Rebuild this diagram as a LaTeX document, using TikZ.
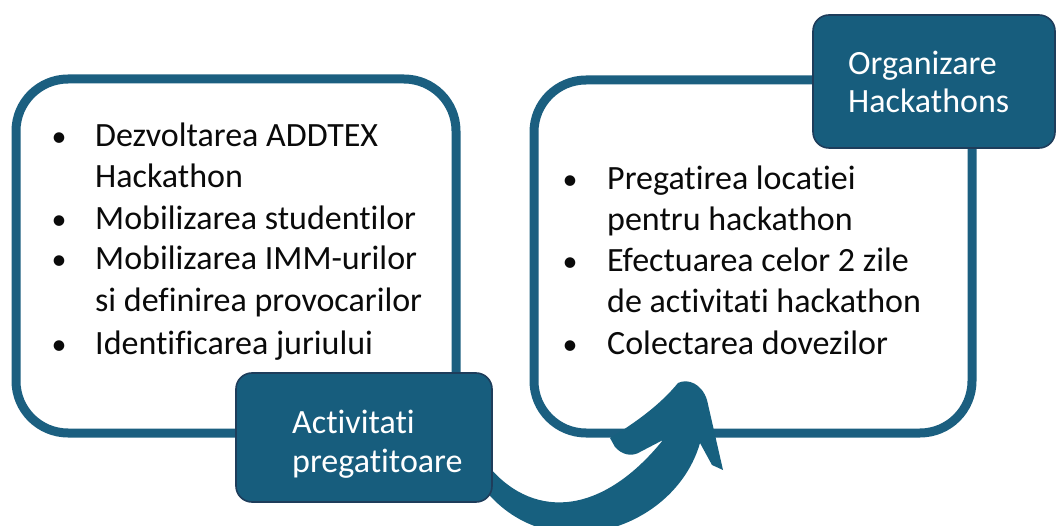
\documentclass[tikz,border=0pt]{standalone}
\usepackage{fontspec}
\setmainfont{Carlito}[Ligatures=NoCommon]
\definecolor{boxblue}{HTML}{1B5F80}
\definecolor{labelfill}{HTML}{175D7D}
\definecolor{labelborder}{HTML}{1E3D5B}
\definecolor{arrowfill}{HTML}{17607F}
\definecolor{txt}{HTML}{0A0A0A}
\begin{document}
\begin{tikzpicture}[x=1pt,y=-1pt,
  bigbox/.style={draw=boxblue,line width=9pt,rounded corners=52pt,fill=white},
  labelbox/.style={draw=labelborder,line width=1.6pt,fill=labelfill,rounded corners=16pt,inner sep=0pt},
  line/.style={anchor=base west,inner sep=0pt,text=txt,font=\fontsize{34}{40}\selectfont},
  bul/.style={anchor=base,inner sep=0pt,text=txt,font=\fontsize{30}{40}\selectfont},
  lbl/.style={anchor=base west,inner sep=0pt,text=white,font=\fontsize{34}{40}\selectfont}]
\useasboundingbox (0,0) rectangle (1057,526);
\clip (0,0) rectangle (1057,526);
% big boxes
\draw[bigbox] (16,79) rectangle (456,433);
\draw[bigbox] (534,80) rectangle (972,433);
% curved arrow
\fill[arrowfill] (485,462) .. controls (530,520) and (600,518) .. (663,440)
 -- (640,452) .. controls (632,457) and (622,455) .. (615,447)
 -- (610,438) .. controls (635,423) and (660,405) .. (678,383)
 .. controls (688,378) and (702,384) .. (707,400)
 -- (723,470) -- (712,465) -- (700,443)
 .. controls (675,530) and (550,570) .. (485,490) -- cycle;
% label boxes
\node[labelbox,minimum width=256pt,minimum height=129pt] (act) at (364,437.5) {};
\node[labelbox,minimum width=242pt,minimum height=133pt] (org) at (934,81.5) {};
\node[lbl] (act1) at (292,433) {Activitati};
\node[lbl] (act2) at (292,472) {pregatitoare};
\node[lbl] (org1) at (848,75) {Organizare};
\node[lbl] (org2) at (848,113) {Hackathons};
% left list
\node[bul] (lb1) at (59,147) {•};
\node[line] (l1) at (95,147) {Dezvoltarea ADDTEX};
\node[line] (l2) at (95,188) {Hackathon};
\node[bul] (lb2) at (59,230) {•};
\node[line] (l3) at (95,230) {Mobilizarea studentilor};
\node[bul] (lb3) at (59,270) {•};
\node[line] (l4) at (95,270) {Mobilizarea IMM-urilor};
\node[line] (l5) at (95,312) {si definirea provocarilor};
\node[bul] (lb4) at (59,355) {•};
\node[line] (l6) at (95,355) {Identificarea juriului};
% right list
\node[bul] (rb1) at (570,190) {•};
\node[line] (r1) at (607,190) {Pregatirea locatiei};
\node[line] (r2) at (607,231) {pentru hackathon};
\node[bul] (rb2) at (570,272) {•};
\node[line] (r3) at (607,272) {Efectuarea celor 2 zile};
\node[line] (r4) at (607,313) {de activitati hackathon};
\node[bul] (rb3) at (570,355) {•};
\node[line] (r5) at (607,355) {Colectarea dovezilor};
\end{tikzpicture}
\end{document}
